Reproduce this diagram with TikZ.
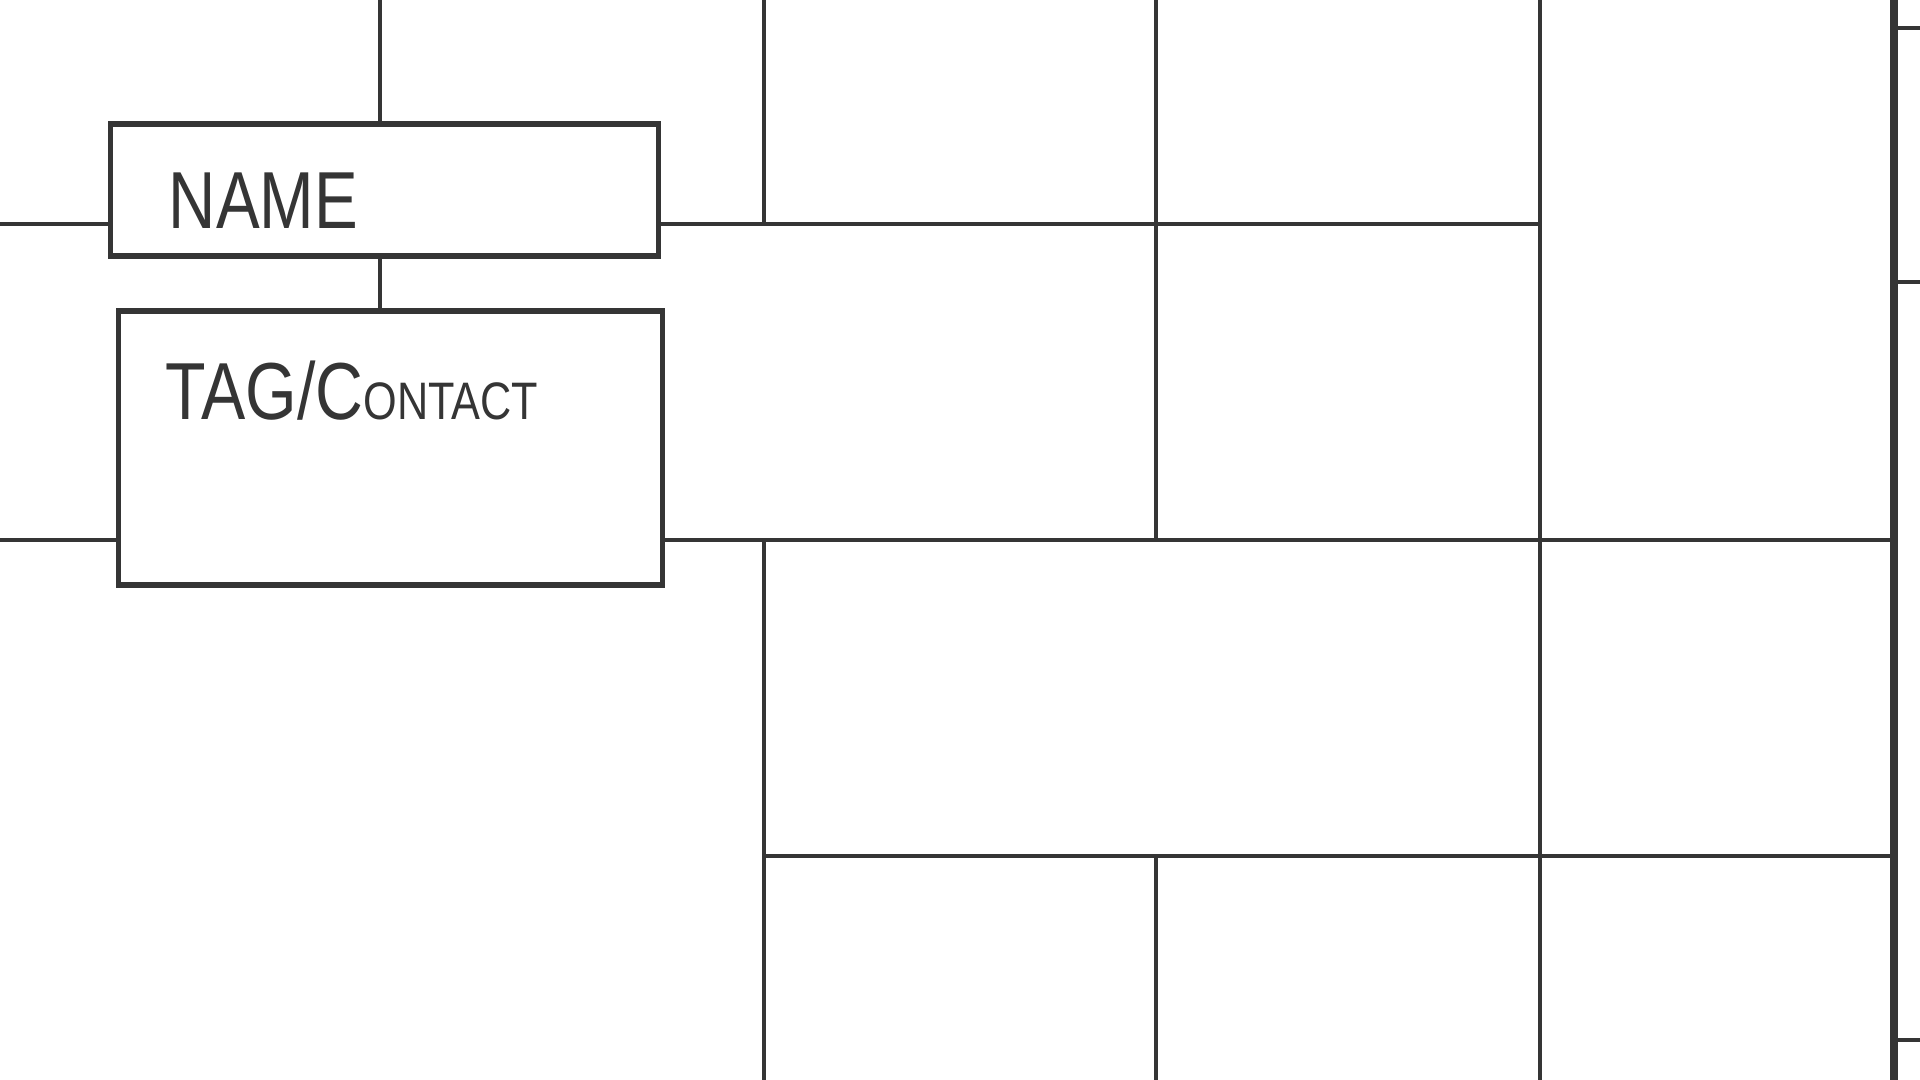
\documentclass[tikz,border=0pt]{standalone}
\usepackage{fontspec}
\setmainfont{Liberation Sans}
\definecolor{ink}{HTML}{353535}
\begin{document}
\begin{tikzpicture}[x=0.01cm,y=-0.01cm,
  line/.style={draw=ink,line width=1.4pt},
  edge/.style={draw=ink,line width=2pt},
  card/.style={draw=ink,line width=1.5pt,rectangle,inner sep=0pt,fill=none},
  hand/.style={text=ink,inner sep=0pt,anchor=base west,font=\fontsize{23}{23}\selectfont}]
\useasboundingbox (0,0) rectangle (1920,1080);
% boxes
\node[card,minimum width=5.47cm,minimum height=1.32cm] (name) at (384.5,190) {};
\node[card,minimum width=5.43cm,minimum height=2.74cm] (tag) at (390.5,448) {};
\node[hand] (nametxt) at (168,229) {\scalebox{0.81}[1]{NAME}};
\node[hand] (tagtxt) at (165,420) {\scalebox{0.82}[1]{TAG/C{\fontsize{15}{15}\selectfont ONTACT}}};
% coordinates of free ends
\coordinate (top1) at (380,0);
\coordinate (l1) at (0,224);
\coordinate (l2) at (0,540);
\coordinate (r1) at (1540,224);
\coordinate (tr) at (662,540);
\coordinate (r2) at (1894,540);
\coordinate (a0) at (764,0);   \coordinate (a1) at (764,224);
\coordinate (a2) at (764,540); \coordinate (a3) at (764,1080);
\coordinate (b0) at (1156,0);  \coordinate (b1) at (1156,540);
\coordinate (b2) at (1156,856);\coordinate (b3) at (1156,1080);
\coordinate (c0) at (1540,0);  \coordinate (c1) at (1540,1080);
\coordinate (d0) at (1894,0);  \coordinate (d1) at (1894,1080);
\coordinate (h0) at (764,856); \coordinate (h1) at (1894,856);
\coordinate (e0) at (1894,28); \coordinate (e1) at (1920,28);
\coordinate (f0) at (1894,282);\coordinate (f1) at (1920,282);
\coordinate (g0) at (1894,1040);\coordinate (g1) at (1920,1040);
% connectors
\draw[line] (top1) -- (top1 |- name.north);
\draw[line] (top1 |- name.south) -- (top1 |- tag.north);
\draw[line] (l1) -- (l1 -| name.west);
\draw[line] (l1 -| name.east) -- (r1);
\draw[line] (l2) -- (l2 -| tag.west);
\draw[line] (tr) -- (r2);
\draw[line] (a0) -- (a1);
\draw[line] (a2) -- (a3);
\draw[line] (b0) -- (b1);
\draw[line] (b2) -- (b3);
\draw[line] (c0) -- (c1);
\draw[line] (h0) -- (h1);
\draw[edge] (d0) -- (d1);
\draw[line] (e0) -- (e1);
\draw[line] (f0) -- (f1);
\draw[line] (g0) -- (g1);
\end{tikzpicture}
\end{document}
